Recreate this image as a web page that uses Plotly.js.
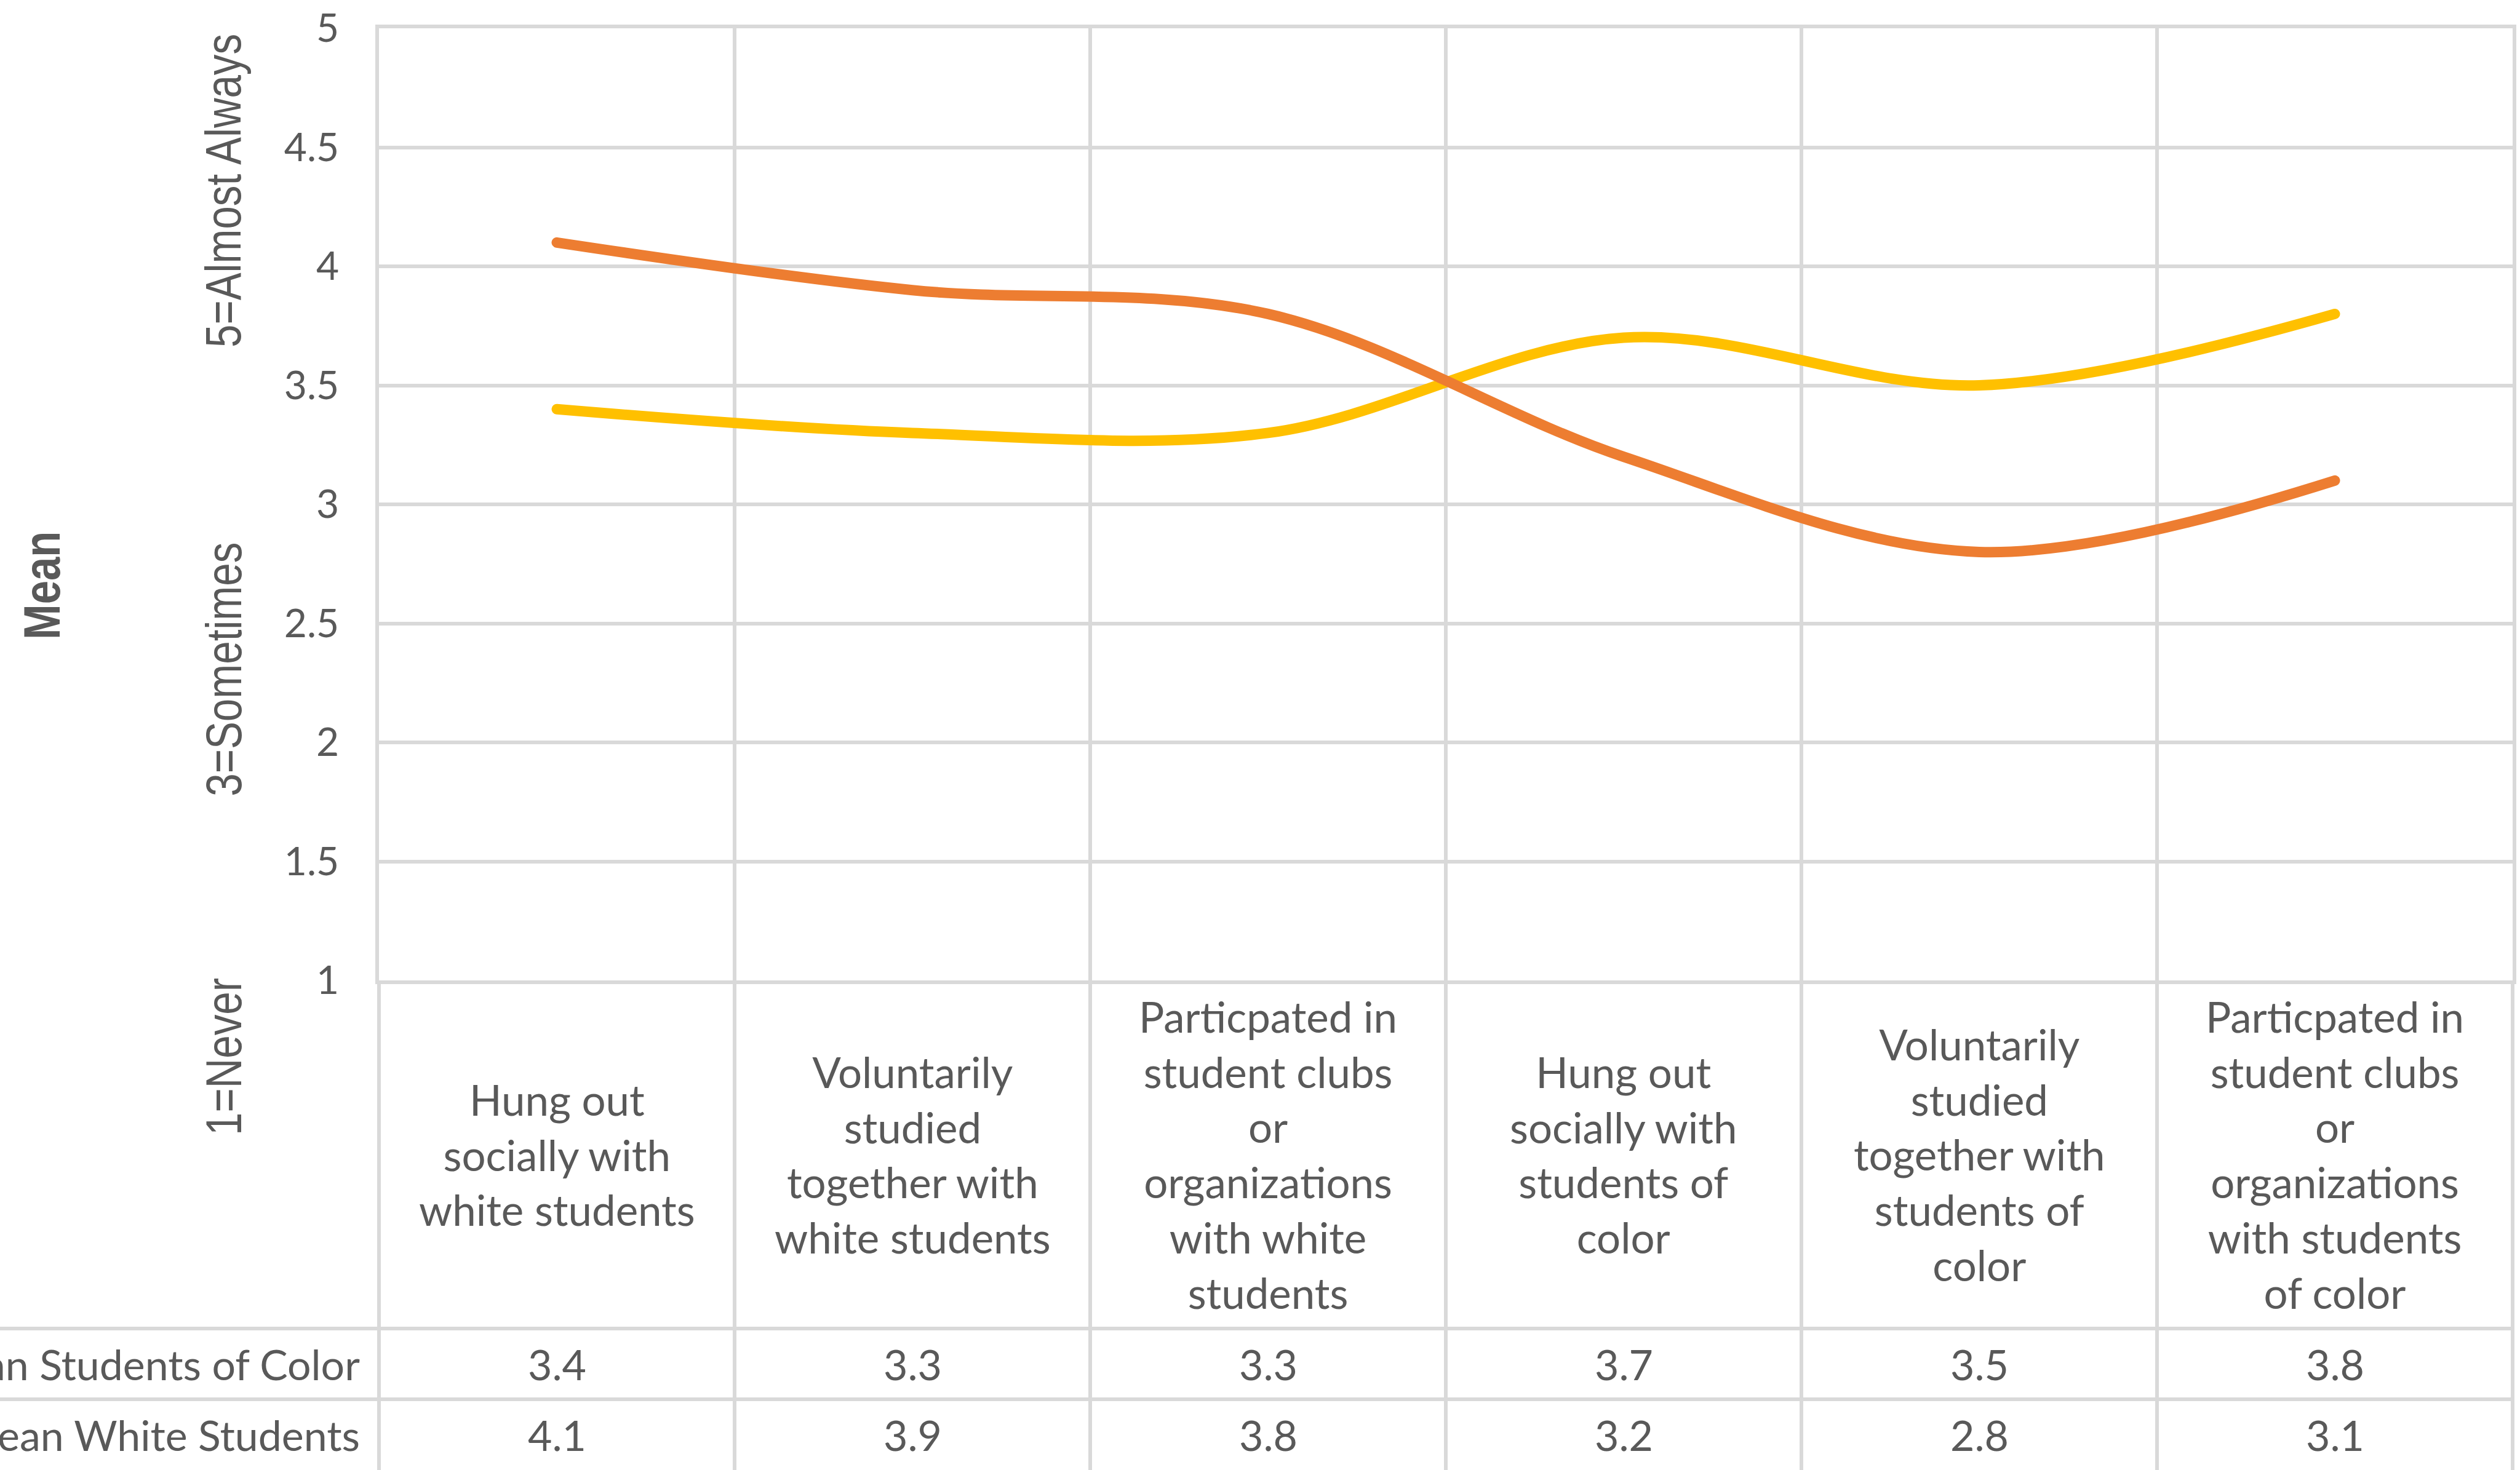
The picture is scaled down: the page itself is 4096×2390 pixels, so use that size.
<!DOCTYPE html>
<html>
<head>
<meta charset="utf-8">
<script src="https://cdn.plot.ly/plotly-3.0.1.min.js"></script>
<style>
  html, body { margin: 0; padding: 0; background: #ffffff; }
  #chart { width: 4096px; height: 2390px; }
</style>
</head>
<body>
<div id="chart"></div>
<script>
// Survey items (one per table column), wrapped as they appear in the cells
const categories = [
  "Hung out<br>socially with<br>white students",
  "Voluntarily<br>studied<br>together with<br>white students",
  "Particpated in<br>student clubs<br>or<br>organizations<br>with white<br>students",
  "Hung out<br>socially with<br>students of<br>color",
  "Voluntarily<br>studied<br>together with<br>students of<br>color",
  "Particpated in<br>student clubs<br>or<br>organizations<br>with students<br>of color"
];

// Mean frequency scores (1 = Never ... 5 = Almost Always)
const meanStudentsOfColor = [3.4, 3.3, 3.3, 3.7, 3.5, 3.8];
const meanWhiteStudents   = [4.1, 3.9, 3.8, 3.2, 2.8, 3.1];

const seriesNames = ["Mean Students of Color", "Mean White Students"];
const yTickValues = [1, 1.5, 2, 2.5, 3, 3.5, 4, 4.5, 5];
const yTickLabels = ["1", "1.5", "2", "2.5", "3", "3.5", "4", "4.5", "5"];
const scaleLabels = ["5=Almost Always", "3=Sometimes", "1=Never"];
const axisTitle = "Mean";

// ---- layout geometry (pixels) ----
const W = 4096, H = 2390;
const plotLeft = 616, plotRight = 4084, plotTop = 46, plotBottom = 1594;
const plotW = plotRight - plotLeft, plotH = plotBottom - plotTop;
const px2paperX = px => (px - plotLeft) / plotW;
const px2paperY = py => (plotBottom - py) / plotH;

const gridColor = "#d9d9d9";
const gridWidth = 6;
const textColor = "#595959";
const bodyFont = "Lato, Calibri, Carlito, sans-serif";
const sideFont = "'Liberation Sans', Arial, sans-serif";
const narrowFactor = 0.82;   // condensed look for the rotated side labels

const catRowBottom = 2160;   // bottom of the item-label row
const row1Bottom = 2275;     // bottom of the first value row
const row2Bottom = 2390;     // bottom of the second value row
const labelRowCenter = (plotBottom + catRowBottom) / 2;
const row1Center = (catRowBottom + row1Bottom) / 2;
const row2Center = (row1Bottom + row2Bottom) / 2;

const seriesColors = ["#FFC000", "#ED7D31"];
const seriesValues = [meanStudentsOfColor, meanWhiteStudents];

const traces = seriesValues.map((vals, i) => ({
  type: "scatter",
  mode: "lines",
  name: seriesNames[i],
  x: categories,
  y: vals,
  line: { color: seriesColors[i], width: 17, shape: "spline", smoothing: 1 },
  hoverinfo: "skip"
}));

const shapes = [];
const annotations = [];

// column borders running through the data table
for (let k = 0; k <= categories.length; k++) {
  shapes.push({
    type: "line", xref: "paper", yref: "paper",
    x0: k / categories.length, x1: k / categories.length,
    y0: 0, y1: px2paperY(H + 20),
    line: { color: gridColor, width: gridWidth }
  });
}
// row borders of the data table
[catRowBottom, row1Bottom].forEach(py => {
  shapes.push({
    type: "line", xref: "paper", yref: "paper",
    x0: px2paperX(-20), x1: 1,
    y0: px2paperY(py), y1: px2paperY(py),
    line: { color: gridColor, width: gridWidth }
  });
});

// item labels in the header row of the table
categories.forEach(c => {
  annotations.push({
    xref: "x", yref: "paper", x: c, y: px2paperY(labelRowCenter),
    xanchor: "center", yanchor: "middle", showarrow: false,
    text: c, align: "center",
    font: { family: bodyFont, size: 69, color: textColor }
  });
});

// value rows
const rowCenters = [row1Center, row2Center];
seriesValues.forEach((vals, i) => {
  annotations.push({
    xref: "paper", yref: "paper", x: px2paperX(587), y: px2paperY(rowCenters[i]),
    xanchor: "right", yanchor: "middle", showarrow: false,
    text: seriesNames[i],
    font: { family: bodyFont, size: 68, color: textColor }
  });
  vals.forEach((v, j) => {
    annotations.push({
      xref: "x", yref: "paper", x: categories[j], y: px2paperY(rowCenters[i]),
      xanchor: "center", yanchor: "middle", showarrow: false,
      text: v.toFixed(1),
      font: { family: bodyFont, size: 68, color: textColor }
    });
  });
});

// scale anchors along the value axis (rotated, condensed after drawing)
const rotatedIdx = [];
const scaleLabelCenters = [310, 1088, 1718];
scaleLabels.forEach((t, i) => {
  rotatedIdx.push(annotations.length);
  annotations.push({
    xref: "paper", yref: "paper", x: px2paperX(363), y: px2paperY(scaleLabelCenters[i]),
    xanchor: "center", yanchor: "middle", showarrow: false, textangle: -90,
    text: t,
    font: { family: sideFont, size: 82, color: textColor }
  });
});
rotatedIdx.push(annotations.length);
annotations.push({
  xref: "paper", yref: "paper", x: px2paperX(68), y: px2paperY(952),
  xanchor: "center", yanchor: "middle", showarrow: false, textangle: -90,
  text: "<b>" + axisTitle + "</b>",
  font: { family: sideFont, size: 84, color: textColor }
});

const layout = {
  width: W, height: H,
  margin: { l: plotLeft, r: W - plotRight, t: plotTop, b: H - plotBottom, pad: 0 },
  paper_bgcolor: "#ffffff",
  plot_bgcolor: "#ffffff",
  showlegend: false,
  xaxis: {
    type: "category",
    range: [-0.5, categories.length - 0.5],
    tickson: "boundaries",
    showgrid: true, gridcolor: gridColor, gridwidth: gridWidth,
    showticklabels: false, ticks: "",
    showline: true, mirror: true, linecolor: gridColor, linewidth: gridWidth,
    zeroline: false, fixedrange: true
  },
  yaxis: {
    range: [1, 5],
    tickmode: "array", tickvals: yTickValues, ticktext: yTickLabels,
    showgrid: true, gridcolor: gridColor, gridwidth: gridWidth,
    showline: true, mirror: true, linecolor: gridColor, linewidth: gridWidth,
    zeroline: false, ticks: "",
    ticklabelstandoff: 46,
    tickfont: { family: bodyFont, size: 64, color: textColor },
    fixedrange: true
  },
  shapes: shapes,
  annotations: annotations
};

Plotly.newPlot("chart", traces, layout, { displayModeBar: false, staticPlot: true }).then(() => {
  document.querySelectorAll("#chart .js-line").forEach(p => {
    p.style.strokeLinecap = "round";
    p.style.strokeLinejoin = "round";
  });
  // condense the rotated side labels along their length
  rotatedIdx.forEach(i => {
    const el = document.querySelector('#chart g.annotation[data-index="' + i + '"] text.annotation-text');
    if (!el) return;
    const len = el.getComputedTextLength();
    el.setAttribute("text-anchor", "middle");
    el.setAttribute("textLength", (len * narrowFactor).toFixed(1));
    el.setAttribute("lengthAdjust", "spacingAndGlyphs");
  });
});
</script>
</body>
</html>
